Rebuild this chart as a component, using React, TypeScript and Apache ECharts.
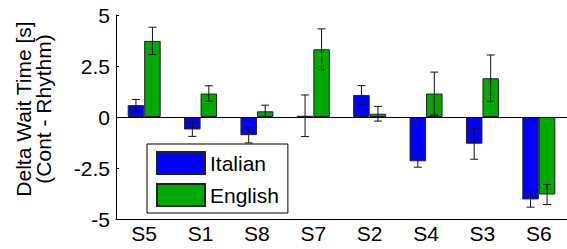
import React, { useEffect, useRef } from "react";
import * as echarts from "echarts";

const categories = ["S5", "S1", "S8", "S7", "S2", "S4", "S3", "S6"];
const italian = [0.58, -0.61, -0.89, 0.06, 1.08, -2.17, -1.31, -4.04];
const italianErr = [0.28, 0.34, 0.38, 1.02, 0.46, 0.29, 0.76, 0.38];
const english = [3.73, 1.15, 0.28, 3.32, 0.16, 1.15, 1.9, -3.8];
const englishErr = [0.67, 0.38, 0.3, 1.0, 0.36, 1.05, 1.14, 0.49];
const yTicks = { min: -5, max: 5, interval: 2.5 };
const seriesNames = ["Italian", "English"];

const FONT = "'Liberation Sans', Arial, sans-serif";
const BAR_W = 16.5;

function errorSeries(values: number[], errs: number[], offset: number) {
  return {
    type: "custom",
    silent: true,
    z: 5,
    data: values.map((v, i) => [i, v - errs[i], v + errs[i]]),
    renderItem: (params: any, api: any) => {
      const idx = api.value(0);
      const lo = api.coord([idx, api.value(1)]);
      const hi = api.coord([idx, api.value(2)]);
      const x = lo[0] + offset;
      const cap = 4;
      const style = { stroke: "#111", lineWidth: 1, fill: "none" };
      return {
        type: "group",
        children: [
          { type: "line", shape: { x1: x, y1: lo[1], x2: x, y2: hi[1] }, style },
          { type: "line", shape: { x1: x - cap, y1: lo[1], x2: x + cap, y2: lo[1] }, style },
          { type: "line", shape: { x1: x - cap, y1: hi[1], x2: x + cap, y2: hi[1] }, style },
        ],
      };
    },
  };
}

export default function App() {
  const ref = useRef<HTMLDivElement>(null);
  useEffect(() => {
    if (!ref.current) return;
    const chart = echarts.init(ref.current, undefined, { renderer: "svg" });
    chart.setOption({
      animation: false,
      backgroundColor: "#fff",
      textStyle: { fontFamily: FONT },
      grid: { left: 116, right: 0, top: 15, bottom: 30, containLabel: false },
      legend: {
        orient: "vertical",
        left: 147,
        top: 144,
        data: seriesNames.map((n) => ({ name: n, icon: "rect" })),
        itemWidth: 48,
        itemHeight: 22,
        itemGap: 8,
        padding: [7, 9, 6, 9],
        borderColor: "#000",
        borderWidth: 1,
        backgroundColor: "#fff",
        textStyle: { fontSize: 21, color: "#000", fontFamily: FONT, lineHeight: 22 },
        selectedMode: false,
      },
      graphic: [
        {
          type: "text",
          x: 33,
          y: 109,
          rotation: Math.PI / 2,
          style: {
            text: "Delta Wait Time [s]\n(Cont - Rhythm)",
            fontSize: 21,
            lineHeight: 20,
            fontFamily: FONT,
            fill: "#000",
            align: "center",
            verticalAlign: "middle",
          },
        },
      ],
      xAxis: {
        type: "category",
        data: categories,
        axisLine: { onZero: false, lineStyle: { color: "#000", width: 1 } },
        axisTick: { inside: true, length: 3, alignWithLabel: true, lineStyle: { color: "#000" } },
        axisLabel: { fontSize: 21, color: "#000", margin: 4, fontFamily: FONT },
        splitLine: { show: false },
      },
      yAxis: {
        type: "value",
        min: yTicks.min,
        max: yTicks.max,
        interval: yTicks.interval,
        axisLine: { show: true, lineStyle: { color: "#000", width: 1 } },
        axisTick: { show: true, inside: true, length: 3, lineStyle: { color: "#000" } },
        axisLabel: { fontSize: 21, color: "#000", margin: 6, fontFamily: FONT },
        splitLine: { show: false },
      },
      series: [
        {
          name: seriesNames[0],
          type: "bar",
          data: italian,
          barWidth: BAR_W,
          barGap: "0%",
          itemStyle: { color: "#0000FF", borderColor: "#222", borderWidth: 1 },
          markLine: {
            silent: true,
            symbol: "none",
            label: { show: false },
            lineStyle: { color: "#000", type: "solid", width: 1 },
            data: [{ yAxis: 0 }],
          },
        },
        {
          name: seriesNames[1],
          type: "bar",
          data: english,
          barWidth: BAR_W,
          barGap: "0%",
          itemStyle: { color: "#00A800", borderColor: "#222", borderWidth: 1 },
        },
        errorSeries(italian, italianErr, -BAR_W / 2),
        errorSeries(english, englishErr, BAR_W / 2),
      ],
    });
    return () => chart.dispose();
  }, []);
  return (
    <div
      ref={ref}
      style={{ position: "fixed", left: 0, top: 0, width: 567, height: 249 }}
    />
  );
}
